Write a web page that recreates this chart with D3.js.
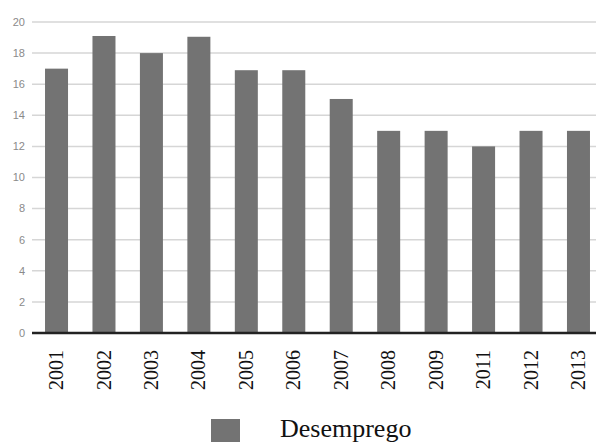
<!DOCTYPE html>
<html>
<head>
<meta charset="utf-8">
<script src="https://cdn.jsdelivr.net/npm/d3@7"></script>
<style>
  body { margin: 0; background: #fff; }
  svg { display: block; }
</style>
</head>
<body>
<div id="chart"></div>
<script>
const years = ['2001', '2002', '2003', '2004', '2005', '2006', '2007', '2008', '2009', '2011', '2012', '2013'];
const desemprego = [17, 19.1, 18, 19.05, 16.9, 16.9, 15.05, 13, 13, 12, 13, 13];
const yTicks = [0, 2, 4, 6, 8, 10, 12, 14, 16, 18, 20];
const seriesName = 'Desemprego';

const width = 596, height = 442;
const svg = d3.select('#chart').append('svg')
  .attr('width', width)
  .attr('height', height);

const x = d3.scaleBand()
  .domain(years)
  .range([32.8, 602.2])
  .paddingInner(0.515)
  .paddingOuter(0.2575);

const y = d3.scaleLinear()
  .domain([0, 20])
  .range([333, 22]);

// grid lines
svg.append('g')
  .selectAll('line')
  .data(yTicks)
  .enter()
  .append('line')
  .attr('x1', 32)
  .attr('x2', width)
  .attr('y1', d => y(d))
  .attr('y2', d => y(d))
  .attr('stroke', '#d6d6d6')
  .attr('stroke-width', 1.5);

// y labels
svg.append('g')
  .selectAll('text')
  .data(yTicks)
  .enter()
  .append('text')
  .attr('x', 25)
  .attr('y', d => y(d))
  .attr('dy', '0.35em')
  .attr('text-anchor', 'end')
  .attr('font-family', 'Arial, "Liberation Sans", sans-serif')
  .attr('font-size', 11)
  .attr('fill', '#8a8a8a')
  .text(d => d);

// bars
svg.append('g')
  .selectAll('rect')
  .data(years)
  .enter()
  .append('rect')
  .attr('x', (d) => x(d))
  .attr('y', (d, i) => y(desemprego[i]))
  .attr('width', x.bandwidth())
  .attr('height', (d, i) => y(0) - y(desemprego[i]))
  .attr('fill', '#737373');

// baseline
svg.append('line')
  .attr('x1', 32)
  .attr('x2', width)
  .attr('y1', y(0))
  .attr('y2', y(0))
  .attr('stroke', '#222')
  .attr('stroke-width', 2.5);

// x labels, rotated
svg.append('g')
  .selectAll('text')
  .data(years)
  .enter()
  .append('text')
  .attr('transform', d => `translate(${x(d) + x.bandwidth() / 2},350) rotate(-90)`)
  .attr('text-anchor', 'end')
  .attr('dy', '0.33em')
  .attr('font-family', '"Liberation Serif", "Times New Roman", serif')
  .attr('font-size', 20)
  .attr('fill', '#111')
  .text(d => d);

// legend
svg.append('rect')
  .attr('x', 211)
  .attr('y', 419)
  .attr('width', 29)
  .attr('height', 29)
  .attr('fill', '#737373');

svg.append('text')
  .attr('x', 280)
  .attr('y', 437)
  .attr('font-family', '"Liberation Serif", "Times New Roman", serif')
  .attr('font-size', 26)
  .attr('fill', '#111')
  .text(seriesName);
</script>
</body>
</html>
